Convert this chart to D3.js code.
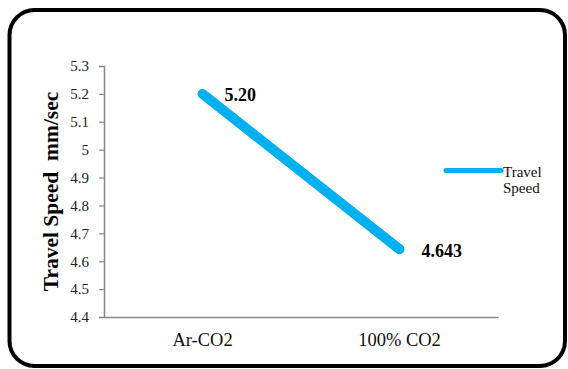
<!DOCTYPE html>
<html><head><meta charset="utf-8">
<script src="https://cdn.jsdelivr.net/npm/d3@7"></script>
<style>body{margin:0;background:#fff;} svg{display:block;}</style>
</head><body>
<svg id="c" width="568" height="369"></svg>
<script>
const categories = ["Ar-CO2", "100% CO2"];
const speedValues = [5.20, 4.643];
const valueLabels = ["5.20", "4.643"];
const yTicks = [4.4, 4.5, 4.6, 4.7, 4.8, 4.9, 5, 5.1, 5.2, 5.3];
const seriesName = ["Travel", "Speed"];
const yTitle = "Travel Speed  mm/sec";

(function () {
const svg = d3.select("#c");
const serif = "'Liberation Serif','Times New Roman',serif";
const blue = "#00B0F0";

svg.append("rect").attr("x", 9.5).attr("y", 10).attr("width", 555.5).attr("height", 356)
  .attr("rx", 25).attr("ry", 25).attr("fill", "#fff").attr("stroke", "#000").attr("stroke-width", 4);

const pL = 104, pR = 498, pT = 66, pB = 317;
const x = d3.scaleBand().domain(categories).range([pL, pR]).paddingInner(0).paddingOuter(0);
const y = d3.scaleLinear().domain([4.4, 5.3]).range([pB, pT]);

const yAxis = svg.append("g").attr("transform", `translate(${pL},0)`)
  .call(d3.axisLeft(y).tickValues(yTicks).tickFormat(d => String(d)).tickSize(5).tickPadding(10));
yAxis.select(".domain").attr("stroke", "#898989").attr("stroke-width", 1.5);
yAxis.selectAll(".tick line").attr("stroke", "#898989").attr("stroke-width", 1.2);
yAxis.selectAll("text").attr("font-family", serif).attr("font-size", 15).attr("fill", "#222");

const xAxis = svg.append("g").attr("transform", `translate(0,${pB})`)
  .call(d3.axisBottom(x).tickSize(0).tickPadding(16).tickSizeOuter(0));
xAxis.select(".domain").attr("stroke", "#898989").attr("stroke-width", 1.5);
xAxis.selectAll("text").attr("font-family", serif).attr("font-size", 18.5).attr("fill", "#111");

const pts = categories.map((c, i) => [x(c) + x.bandwidth() / 2, y(speedValues[i])]);
svg.append("path").attr("d", d3.line()(pts)).attr("fill", "none").attr("stroke", blue)
  .attr("stroke-width", 10).attr("stroke-linecap", "round").attr("stroke-linejoin", "round");

svg.selectAll(".vl").data(pts).enter().append("text")
  .attr("x", d => d[0] + 22).attr("y", d => d[1] + 7.5)
  .attr("font-family", serif).attr("font-weight", "bold").attr("font-size", 18).attr("fill", "#000")
  .text((d, i) => valueLabels[i]);

svg.append("text").attr("transform", `translate(58,${(88 + 295) / 2}) rotate(-90)`)
  .attr("text-anchor", "middle").attr("font-family", serif).attr("font-weight", "bold")
  .attr("font-size", 21.5).attr("fill", "#000").style("white-space", "pre").text(yTitle);

svg.append("line").attr("x1", 446).attr("x2", 501).attr("y1", 170.5).attr("y2", 170.5)
  .attr("stroke", blue).attr("stroke-width", 5).attr("stroke-linecap", "round");
const lt = svg.append("text").attr("font-family", serif).attr("font-size", 15).attr("fill", "#111");
lt.selectAll("tspan").data(seriesName).enter().append("tspan")
  .attr("x", 503).attr("y", (d, i) => 176.5 + i * 16).text(d => d);
})();
</script>
</body></html>
